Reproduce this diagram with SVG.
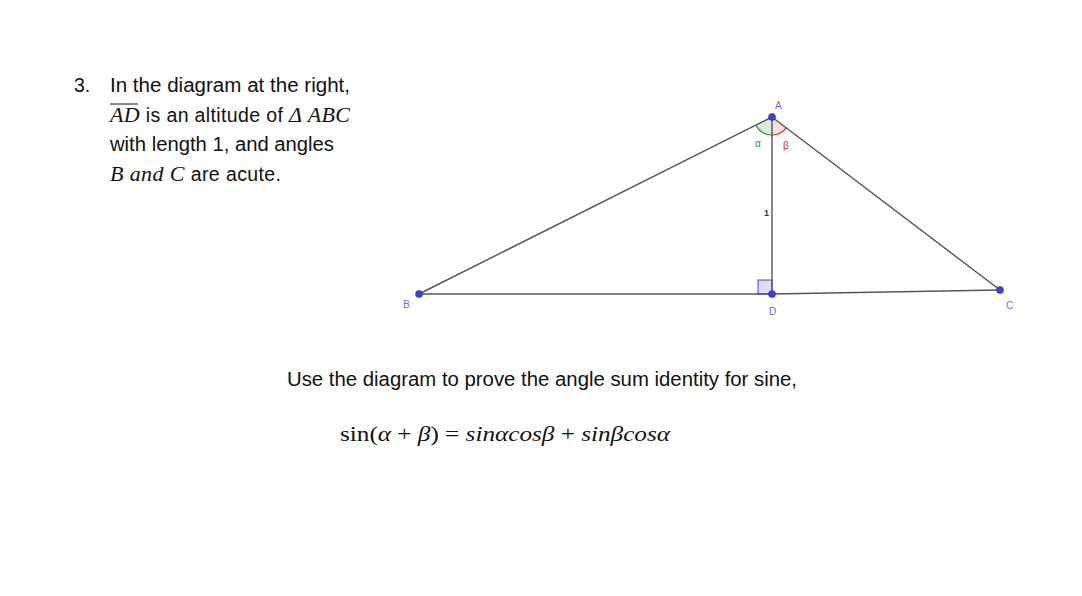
<svg xmlns="http://www.w3.org/2000/svg" width="1082" height="596" viewBox="0 0 1082 596">
<style>
.t{font-family:"Liberation Sans",Arial,sans-serif;font-size:19.5px;fill:#111}
.m{font-family:"Liberation Serif","Times New Roman",serif;font-style:italic;font-size:22px;fill:#111}
.r{font-family:"Liberation Serif","Times New Roman",serif;font-size:22px;fill:#111}
.lbl{font-family:"Liberation Sans",Arial,sans-serif;font-size:10px;fill:#6b6bff}
.seg{stroke:#555;stroke-width:1.4;fill:none}
.pt{fill:#3f3fe0;stroke:#2a2aa0;stroke-width:0.6}
</style>
<rect width="1082" height="596" fill="#fff"/>
<g id="problem-text">
<text class="t" x="74" y="92">3.</text>
<text class="t" x="110" y="92" textLength="240" lengthAdjust="spacingAndGlyphs">In the diagram at the right,</text>
<text x="110" y="122" textLength="240" lengthAdjust="spacing"><tspan class="m">AD</tspan><tspan class="t"> is an altitude of </tspan><tspan class="m">Δ ABC</tspan></text>
<line x1="110" y1="104" x2="138" y2="104" stroke="#111" stroke-width="1"/>
<text class="t" x="110" y="151" textLength="224" lengthAdjust="spacingAndGlyphs">with length 1, and angles</text>
<text x="110" y="181" textLength="171" lengthAdjust="spacing"><tspan class="m">B and C</tspan><tspan class="t"> are acute.</tspan></text>
</g>
<g id="angle-alpha">
<path d="M772,117 L755.9,125.1 A18,18 0 0 0 772,135 Z" fill="#d8eed8" stroke="none"/>
<path d="M755.9,125.1 A18,18 0 0 0 772,135" fill="none" stroke="#2e8b2e" stroke-width="1.2"/>
<text x="755" y="147" font-family="Liberation Sans,Arial,sans-serif" font-size="10px" fill="#2e8b2e">α</text>
</g>
<g id="angle-beta">
<path d="M772,117 L772,135 A18,18 0 0 0 786.3,127.9 Z" fill="#f8dede" stroke="none"/>
<path d="M772,135 A18,18 0 0 0 786.3,127.9" fill="none" stroke="#d03030" stroke-width="1.2"/>
<text x="783" y="149" font-family="Liberation Sans,Arial,sans-serif" font-size="10px" fill="#d03030">β</text>
</g>
<g id="right-angle">
<rect x="758" y="280" width="14" height="14" fill="#dcdcff" stroke="#4a4ae0" stroke-width="1"/>
</g>
<g id="connectors">
<line class="seg" x1="419" y1="294" x2="772" y2="117"/>
<line class="seg" x1="772" y1="117" x2="1000" y2="290"/>
<line class="seg" x1="419" y1="294" x2="772" y2="294"/>
<line class="seg" x1="772" y1="294" x2="1000" y2="290"/>
<line class="seg" x1="772" y1="117" x2="772" y2="294"/>
</g>
<text x="764" y="216" font-family="Liberation Sans,Arial,sans-serif" font-size="9px" font-weight="bold" fill="#333">1</text>
<g id="A"><circle class="pt" cx="772" cy="117" r="3.5"/><text class="lbl" x="775" y="109">A</text></g>
<g id="B"><circle class="pt" cx="419" cy="294" r="3.5"/><text class="lbl" x="403" y="308">B</text></g>
<g id="D"><circle class="pt" cx="772" cy="294" r="3.5"/><text class="lbl" x="769" y="315">D</text></g>
<g id="C"><circle class="pt" cx="1000" cy="290" r="3.5"/><text class="lbl" x="1006" y="309">C</text></g>
<g id="prompt">
<text class="t" x="287" y="386" textLength="510" lengthAdjust="spacingAndGlyphs">Use the diagram to prove the angle sum identity for sine,</text>
<text x="340" y="441" textLength="330" lengthAdjust="spacingAndGlyphs"><tspan class="r">sin(</tspan><tspan class="m">α</tspan><tspan class="r"> + </tspan><tspan class="m">β</tspan><tspan class="r">) = </tspan><tspan class="m">sinαcosβ</tspan><tspan class="r"> + </tspan><tspan class="m">sinβcosα</tspan></text>
</g>
</svg>
